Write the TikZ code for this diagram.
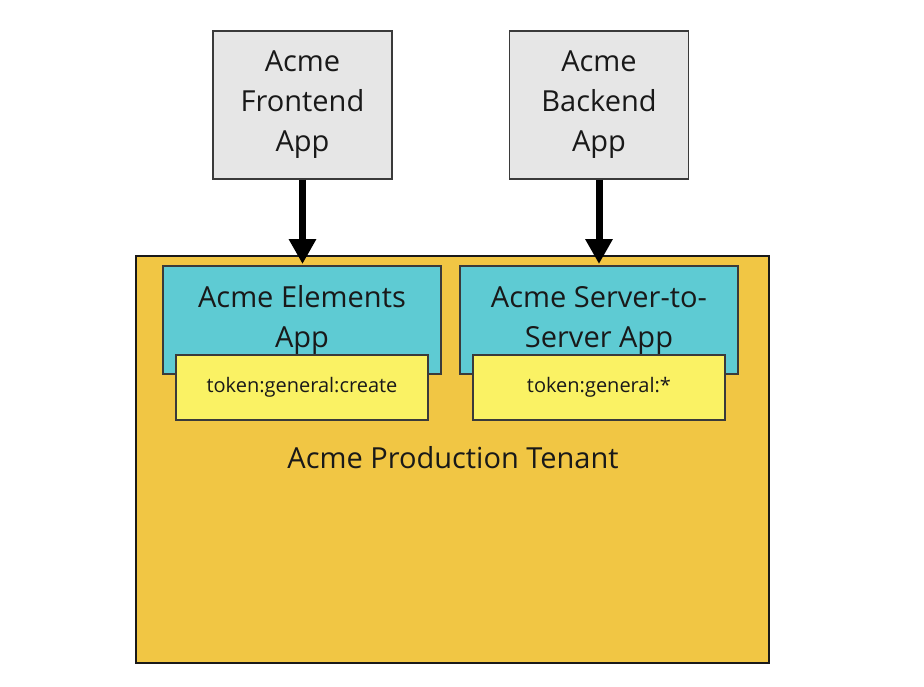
\documentclass[tikz,border=0pt]{standalone}
\usepackage{fontspec}
\setmainfont{Open Sans}
\usetikzlibrary{arrows.meta}
\definecolor{appgrey}{HTML}{E6E6E6}
\definecolor{tenantfill}{HTML}{F1C644}
\definecolor{tealfill}{HTML}{5ECBD3}
\definecolor{tokenfill}{HTML}{FAF264}
\definecolor{edgegrey}{HTML}{3A3A3A}
\tikzset{
  box/.style={draw=edgegrey, line width=1.2pt, inner sep=0pt, align=center, text=black!90},
  extapp/.style={box, fill=appgrey, minimum width=179pt, minimum height=148pt, font=\fontsize{29}{40}\selectfont},
  tenantbox/.style={box, draw=black!90, fill=tenantfill, minimum width=633pt, minimum height=407pt},
  appbox/.style={box, fill=tealfill, minimum width=278pt, minimum height=108pt, font=\fontsize{29}{40}\selectfont},
  tokenbox/.style={box, fill=tokenfill, minimum width=252pt, minimum height=65pt, font=\fontsize{20}{24}\selectfont},
  flow/.style={line width=7pt, -{Triangle[width=26pt,length=25pt]}},
}
\begin{document}
\begin{tikzpicture}[x=1pt,y=-1pt]
\useasboundingbox (0,0) rectangle (924,686);
\node[extapp] (frontend) at (302.5,105) {Acme\\Frontend\\App};
\node[extapp] (backend) at (599,105) {Acme\\Backend\\App};
\node[tenantbox] (tenant) at (452.5,459.5) {};
\node[font=\fontsize{29}{40}\selectfont, text=black!90] (tenantlbl) at (453,458) {Acme Production Tenant};
\node[appbox] (elements) at (302,320) {Acme Elements\\App};
\node[appbox] (s2s) at (599,320) {Acme Server-to-\\Server App};
\node[tokenbox] (tok1) at (302,387.5) {token:general:create};
\node[tokenbox] (tok2) at (599,387.5) {token:general:*};
\coordinate (tip1) at (302.5,264);
\coordinate (tip2) at (599,264);
\draw[flow] (frontend.south) -- (tip1);
\draw[flow] (backend.south) -- (tip2);
\end{tikzpicture}
\end{document}
